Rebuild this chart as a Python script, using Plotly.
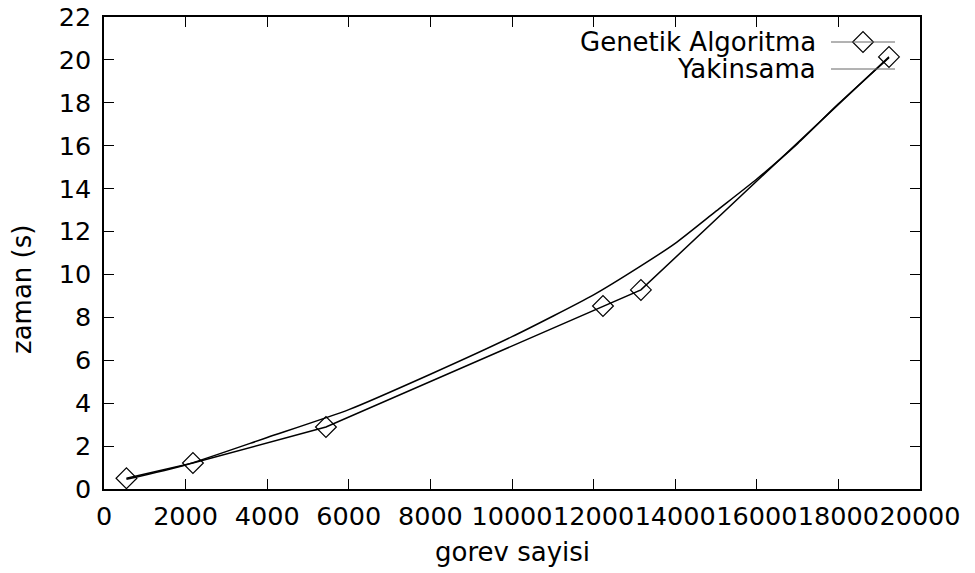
import plotly.graph_objects as go

# Data
ga_x = [550, 2180, 5440, 12230, 13160, 19240]
ga_y = [0.5, 1.21, 2.89, 8.53, 9.28, 20.14]

fit_x = [550, 2000, 4000, 6000, 8000, 10000, 12000, 13160, 14000, 15000, 16000, 17000, 18000, 19240]
fit_y = [0.45, 1.12, 2.40, 3.70, 5.35, 7.10, 9.05, 10.40, 11.45, 12.95, 14.45, 16.10, 17.95, 20.10]

x_ticks = [0, 2000, 4000, 6000, 8000, 10000, 12000, 14000, 16000, 18000, 20000]
y_ticks = [0, 2, 4, 6, 8, 10, 12, 14, 16, 18, 20, 22]

legend_names = ["Genetik Algoritma", "Yakinsama"]
x_title = "gorev sayisi"
y_title = "zaman (s)"

FONT = "DejaVu Sans, Liberation Sans, Arial, sans-serif"
FS = 26
TFS = 25.5

fig = go.Figure()
fig.add_trace(go.Scatter(
    x=ga_x, y=ga_y, mode="lines+markers", name=legend_names[0],
    line=dict(color="black", width=1.5),
    marker=dict(symbol="diamond-open", size=16, color="black", line=dict(width=1.2)),
    showlegend=False,
))
fig.add_trace(go.Scatter(
    x=fit_x, y=fit_y, mode="lines", name=legend_names[1],
    line=dict(color="black", width=1.5, shape="spline", smoothing=0.6),
    showlegend=False,
))

# Manual gnuplot-style legend (text left of sample)
L, R, T, B = 104, 920, 17, 489
W, H = R - L, B - T
def px(xp): return (xp - L) / W
def py(yp): return (B - yp) / H

rows = [42, 69]
for i, name in enumerate(legend_names):
    fig.add_annotation(x=px(818), y=py(rows[i]), xref="paper", yref="paper",
                       text=name, showarrow=False, xanchor="right", yanchor="middle",
                       font=dict(family=FONT, size=FS, color="black"))
    fig.add_shape(type="line", xref="paper", yref="paper",
                  x0=px(831), x1=px(895), y0=py(rows[i]), y1=py(rows[i]),
                  line=dict(color="#666666", width=1))
fig.add_trace(go.Scatter(
    x=[px(863)], y=[py(rows[0])], xaxis="x2", yaxis="y2", mode="markers",
    marker=dict(symbol="diamond-open", size=16, color="black", line=dict(width=1.2)),
    showlegend=False, hoverinfo="skip",
))

# Axis titles
fig.add_annotation(x=px(512), y=py(552), xref="paper", yref="paper", text=x_title,
                   showarrow=False, xanchor="center", yanchor="middle",
                   font=dict(family=FONT, size=FS, color="black"))
fig.add_annotation(x=px(22), y=py(290), xref="paper", yref="paper", text=y_title,
                   showarrow=False, xanchor="center", yanchor="middle", textangle=-90,
                   font=dict(family=FONT, size=FS, color="black"))

axis_common = dict(
    showgrid=False, zeroline=False, showline=True, linecolor="black", linewidth=1.5,
    mirror="ticks", ticks="inside", ticklen=10, tickwidth=1, tickcolor="black",
    tickfont=dict(family=FONT, size=TFS, color="black"), automargin=False,
    tickangle=0,
)

fig.update_layout(
    width=975, height=573,
    margin=dict(l=L, r=975 - R, t=T, b=573 - B),
    paper_bgcolor="white", plot_bgcolor="white",
    font=dict(family=FONT, size=FS, color="black"),
    xaxis=dict(range=[0, 20000], tickvals=x_ticks, ticktext=[str(v) for v in x_ticks],
               ticklabelstandoff=4, **axis_common),
    yaxis=dict(range=[0, 22], tickvals=y_ticks, ticktext=[str(v) for v in y_ticks],
               ticklabelstandoff=6, **axis_common),
    xaxis2=dict(range=[0, 1], overlaying="x", visible=False, fixedrange=True),
    yaxis2=dict(range=[0, 1], overlaying="y", visible=False, fixedrange=True),
)

fig.write_html("out.html")
